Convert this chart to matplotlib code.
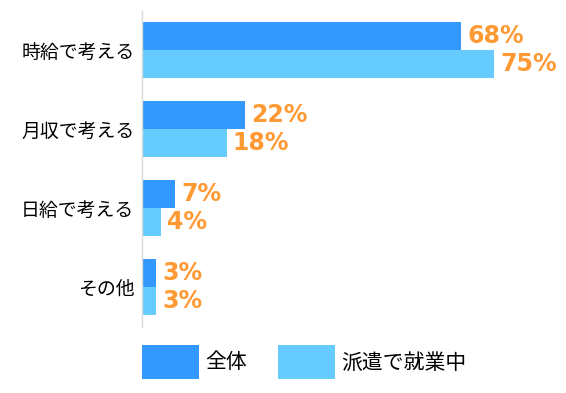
import matplotlib.pyplot as plt
import numpy as np

plt.rcParams['font.family'] = ['Noto Sans CJK JP', 'DejaVu Sans']

categories = ["時給で考える", "月収で考える", "日給で考える", "その他"]
series_names = ["全体", "派遣で就業中"]
overall = [68, 22, 7, 3]
dispatched = [75, 18, 4, 3]

colors = ["#3399FF", "#66CCFF"]
label_color = "#FF9933"

fig = plt.figure(figsize=(5.66, 3.93), dpi=100)
ax = fig.add_axes([0.251, 0.169, 0.746, 0.804])

y = np.arange(len(categories))
h = 0.354
bars1 = ax.barh(y - h / 2, overall, height=h, color=colors[0], label=series_names[0])
bars2 = ax.barh(y + h / 2, dispatched, height=h, color=colors[1], label=series_names[1])

# value labels to the right of each bar
for bars, vals in [(bars1, overall), (bars2, dispatched)]:
    for b, v in zip(bars, vals):
        ax.annotate(f"{v}%", (b.get_width(), b.get_y() + b.get_height() / 2),
                    xytext=(4.5, 0), textcoords='offset points',
                    ha='left', va='center', color=label_color,
                    fontsize=17, fontweight='bold', family='DejaVu Sans')

ax.set_xlim(0, 90)
ax.set_ylim(len(categories) - 0.5, -0.5)
ax.set_yticks(y)
ax.set_yticklabels(categories, fontsize=13.6)
ax.set_xticks([])
ax.tick_params(axis='y', length=0, pad=5.5)
for s in ['top', 'right', 'bottom']:
    ax.spines[s].set_visible(False)
ax.spines['left'].set_color('#D9D9D9')
ax.spines['left'].set_linewidth(1)

fig.legend(loc='upper left', bbox_to_anchor=(142 / 566, 1 - 345 / 393),
           ncol=2, frameon=False, fontsize=15, borderpad=0, borderaxespad=0,
           handlelength=2.74, handleheight=2.1, handletextpad=0.3,
           columnspacing=1.5)

fig.savefig("out.png", dpi=100)
